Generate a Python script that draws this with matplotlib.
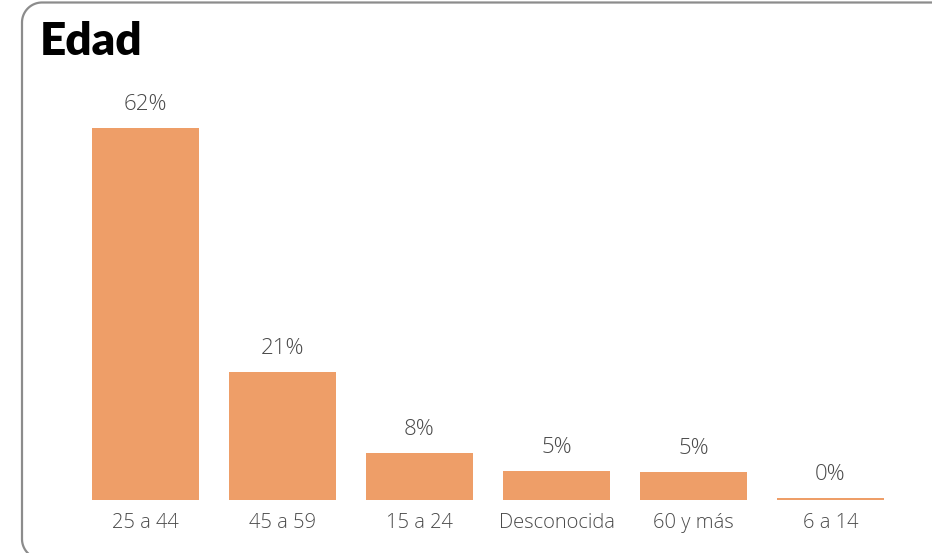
import matplotlib
matplotlib.use("Agg")
import matplotlib.pyplot as plt
import numpy as np

categories = ["25 a 44", "45 a 59", "15 a 24", "Desconocida", "60 y más", "6 a 14"]
values = [62.0, 21.3, 7.8, 4.8, 4.6, 0.3]
title = "Edad"

W, H = 932, 553
fig = plt.figure(figsize=(W / 100, H / 100), dpi=100)
fig.patch.set_facecolor("white")

# background axes in pixel units for the rounded card outline
bg = fig.add_axes([0, 0, 1, 1])
bg.set_xlim(0, W)
bg.set_ylim(H, 0)
bg.axis("off")
r = 20
x0, y0, y1 = 22, 2.5, H + 6
t1 = np.linspace(np.pi * 1.5, np.pi, 30)   # top-left corner
t2 = np.linspace(np.pi, np.pi * 0.5, 30)   # bottom-left corner
xs = np.concatenate([[W + 5], x0 + r + r * np.cos(t1), x0 + r + r * np.cos(t2), [W + 5]])
ys = np.concatenate([[y0], y0 + r + r * np.sin(t1), y1 - r + r * np.sin(t2), [y1]])
bg.plot(xs, ys, color="#8c8c8c", lw=1.6, solid_capstyle="butt")

left, right = 77 / W, 899 / W
bottom = 1 - 499.5 / H
ax = fig.add_axes([left, bottom, right - left, (499.5 - 80) / H])
ppp = (499.5 - 128) / 62.0  # pixels per percent
ax.set_ylim(0, (499.5 - 80) / ppp)
ax.set_xlim(-0.5, len(categories) - 0.5)

x = range(len(categories))
ax.bar(x, values, width=107 / 137, color="#EE9E68", edgecolor="none")
for xi, v in zip(x, values):
    ax.annotate(f"{v:.0f}%", (xi, v), xytext=(0, 9), textcoords="offset points",
                ha="center", va="bottom", fontsize=16, color="#4a4a4a",
                family="Open Sans", fontweight="light")

ax.set_xticks(list(x))
ax.set_xticklabels(categories, fontsize=14.5, color="#4a4a4a", family="Open Sans",
                   fontweight="light")
ax.tick_params(axis="x", length=0, pad=10)
ax.set_yticks([])
for s in ax.spines.values():
    s.set_visible(False)
ax.patch.set_alpha(0)

fig.text(40 / W, 1 - 55 / H, title, fontsize=33, fontweight="heavy",
         family="Lato", color="black", ha="left", va="baseline")

fig.savefig("out.png", dpi=100)
